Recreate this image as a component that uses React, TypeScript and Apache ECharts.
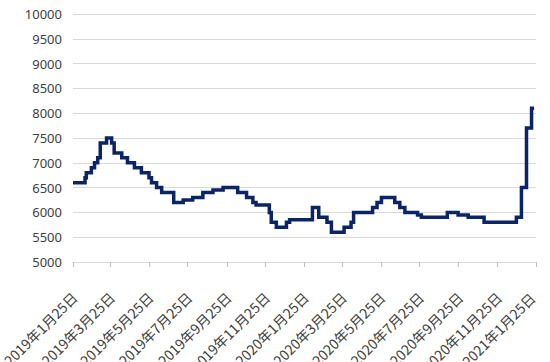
import React, { useEffect, useRef } from "react";
import * as echarts from "echarts";

const startDate = "2019-01-25";
const endDate = "2021-01-25";

const tickDates = [
  "2019-01-25", "2019-03-25", "2019-05-25", "2019-07-25", "2019-09-25", "2019-11-25",
  "2020-01-25", "2020-03-25", "2020-05-25", "2020-07-25", "2020-09-25", "2020-11-25",
  "2021-01-25",
];

const changeDates = [
  "2019-01-25", "2019-02-13", "2019-02-15", "2019-02-23", "2019-02-28", "2019-03-05",
  "2019-03-09", "2019-03-19", "2019-03-27", "2019-03-31", "2019-04-12", "2019-04-21",
  "2019-05-02", "2019-05-13", "2019-05-25", "2019-05-29", "2019-06-06", "2019-06-14",
  "2019-07-03", "2019-07-18", "2019-08-02", "2019-08-18", "2019-09-03", "2019-09-19",
  "2019-10-12", "2019-10-26", "2019-11-05", "2019-11-10", "2019-11-29", "2019-12-01",
  "2019-12-04", "2019-12-12", "2019-12-28", "2020-01-02", "2020-02-05", "2020-02-07",
  "2020-02-17", "2020-03-01", "2020-03-08", "2020-03-28", "2020-04-08", "2020-04-12",
  "2020-05-12", "2020-05-19", "2020-05-26", "2020-06-16", "2020-06-24", "2020-07-02",
  "2020-07-07", "2020-07-22", "2020-07-28", "2020-09-07", "2020-09-24", "2020-10-10",
  "2020-11-04", "2020-12-25", "2021-01-02", "2021-01-10", "2021-01-18", "2021-01-22",
];

const changeValues = [
  6600, 6700, 6800, 6900, 7000, 7100,
  7400, 7500, 7400, 7200, 7100, 7000,
  6900, 6800, 6700, 6600, 6500, 6400,
  6200, 6250, 6300, 6400, 6450, 6500,
  6400, 6300, 6200, 6150, 6150, 6000,
  5800, 5700, 5800, 5850, 5850, 6100,
  5900, 5800, 5600, 5700, 5800, 6000,
  6100, 6200, 6300, 6200, 6100, 6000,
  6000, 5950, 5900, 6000, 5950, 5900,
  5800, 5900, 6500, 7700, 8100, 8100,
];

function pad(n: number) {
  return n < 10 ? "0" + n : "" + n;
}

function buildDays(from: string, to: string): string[] {
  const out: string[] = [];
  const d = new Date(from + "T00:00:00Z");
  const end = new Date(to + "T00:00:00Z");
  while (d.getTime() <= end.getTime()) {
    out.push(d.getUTCFullYear() + "-" + pad(d.getUTCMonth() + 1) + "-" + pad(d.getUTCDate()));
    d.setUTCDate(d.getUTCDate() + 1);
  }
  return out;
}

function fmt(s: string) {
  const [y, m, d] = s.split("-");
  const text = `${y}年${parseInt(m, 10)}月${parseInt(d, 10)}日`;
  return s === endDate ? `{last|${text}}` : `{n|${text}}`;
}

export default function App() {
  const ref = useRef<HTMLDivElement>(null);
  useEffect(() => {
    document.body.style.margin = "0";
    if (!ref.current) return;
    const chart = echarts.init(ref.current, null, { renderer: "svg" });
    const days = buildDays(startDate, endDate);
    const tickSet = new Set(tickDates);
    const data = changeDates.map((d, i) => [days.indexOf(d), changeValues[i]]);
    const labelStyle = { color: "#404040", fontSize: 14, fontFamily: "Noto Sans CJK SC" };
    chart.setOption({
      animation: false,
      backgroundColor: "#ffffff",
      grid: {
        left: 73, right: 14, top: 14, bottom: 100,
        containLabel: false, outerBoundsMode: "none",
      },
      xAxis: {
        type: "category",
        data: days,
        boundaryGap: false,
        axisLine: { lineStyle: { color: "#d9d9d9", width: 1 } },
        axisTick: {
          show: true,
          length: 5,
          interval: (_i: number, v: string) => tickSet.has(v),
          lineStyle: { color: "#bfbfbf" },
        },
        axisLabel: {
          interval: (_i: number, v: string) => tickSet.has(v),
          formatter: (v: string) => fmt(v),
          rotate: 45,
          margin: 20,
          verticalAlign: "top",
          ...labelStyle,
          rich: {
            n: { ...labelStyle, padding: [3, 8, 0, 0] },
            last: { ...labelStyle, padding: [0, 12, 0, 0] },
          },
        },
        splitLine: { show: false },
      },
      yAxis: {
        type: "value",
        min: 5000,
        max: 10000,
        interval: 500,
        axisLine: { show: false },
        axisTick: { show: false },
        axisLabel: {
          color: "#404040",
          fontSize: 13,
          margin: 11,
          fontFamily: "Noto Sans",
          formatter: (v: number) => String(v),
        },
        splitLine: { lineStyle: { color: "#d9d9d9", width: 1 } },
      },
      series: [
        {
          type: "line",
          data,
          step: "end",
          symbol: "none",
          lineStyle: { color: "#0b2466", width: 3.5, join: "miter" },
        },
      ],
    });
    return () => chart.dispose();
  }, []);
  return <div ref={ref} style={{ width: 550, height: 362 }} />;
}
